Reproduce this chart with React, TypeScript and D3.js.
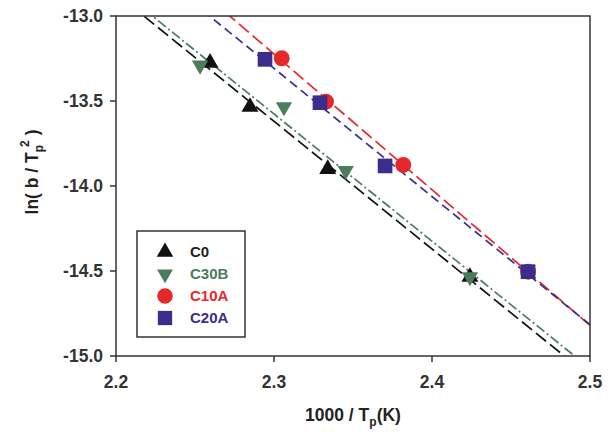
import React from "react";
import * as d3 from "d3";

// Series data: x = 1000/Tp (1/K), y = ln(b/Tp^2)
const seriesNames = ["C0", "C30B", "C10A", "C20A"];
const c0X = [2.2595, 2.2848, 2.334, 2.424];
const c0Y = [-13.276, -13.535, -13.9, -14.535];
const c30bX = [2.2532, 2.3063, 2.3454, 2.424];
const c30bY = [-13.29, -13.535, -13.91, -14.535];
const c10aX = [2.3049, 2.3329, 2.3818, 2.4608];
const c10aY = [-13.249, -13.504, -13.876, -14.504];
const c20aX = [2.2943, 2.3291, 2.3703, 2.4608];
const c20aY = [-13.255, -13.51, -13.882, -14.504];

const xTicks = [2.2, 2.3, 2.4, 2.5];
const yTicks = [-13.0, -13.5, -14.0, -14.5, -15.0];

const W = 616;
const H = 432;
const M = { left: 116, top: 16, right: 590, bottom: 356 };

const FONT = "'Liberation Sans', Arial, Helvetica, sans-serif";

type Series = {
  name: string;
  xs: number[];
  ys: number[];
  color: string;
  symbol: d3.SymbolType;
  size: number;
  rotate: number;
  dash: string;
};

// least-squares line through a series
function fit(xs: number[], ys: number[]) {
  const mx = d3.mean(xs)!;
  const my = d3.mean(ys)!;
  let sxy = 0;
  let sxx = 0;
  xs.forEach((x, i) => {
    sxy += (x - mx) * (ys[i] - my);
    sxx += (x - mx) * (x - mx);
  });
  const slope = sxy / sxx;
  return (x: number) => my + slope * (x - mx);
}

export default function App() {
  const x = d3.scaleLinear().domain([2.2, 2.5]).range([M.left, M.right]);
  const y = d3.scaleLinear().domain([-13.0, -15.0]).range([M.top, M.bottom]);

  const series: Series[] = [
    { name: seriesNames[2], xs: c10aX, ys: c10aY, color: "#e6282b", symbol: d3.symbolCircle, size: 200, rotate: 0, dash: "13,5" },
    { name: seriesNames[3], xs: c20aX, ys: c20aY, color: "#3b2d8e", symbol: d3.symbolSquare, size: 215, rotate: 0, dash: "9,5" },
    { name: seriesNames[0], xs: c0X, ys: c0Y, color: "#111111", symbol: d3.symbolTriangle, size: 125, rotate: 0, dash: "13,5" },
    { name: seriesNames[1], xs: c30bX, ys: c30bY, color: "#4c7c5e", symbol: d3.symbolTriangle, size: 115, rotate: 180, dash: "10,3,2,3" },
  ];

  const legendOrder = [2, 3, 0, 1];
  const line = d3.line<[number, number]>().x((d) => x(d[0])).y((d) => y(d[1]));

  return (
    <svg width={W} height={H} style={{ position: "absolute", left: 0, top: 0, background: "#fff" }}>
      <defs>
        <clipPath id="plotClip">
          <rect x={M.left} y={M.top} width={M.right - M.left} height={M.bottom - M.top} />
        </clipPath>
      </defs>

      {/* fitted lines */}
      <g clipPath="url(#plotClip)">
        {series.map((s) => {
          const f = fit(s.xs, s.ys);
          const pts: [number, number][] = [[2.2, f(2.2)], [2.5, f(2.5)]];
          return (
            <path
              key={s.name + "-fit"}
              d={line(pts) as string}
              fill="none"
              stroke={s.color}
              strokeWidth={1.7}
              strokeDasharray={s.dash}
            />
          );
        })}
      </g>

      {/* markers */}
      {series.map((s) => {
        const gen = d3.symbol().type(s.symbol).size(s.size);
        return (
          <g key={s.name + "-pts"}>
            {s.xs.map((xv, i) => (
              <path
                key={i}
                d={gen() as string}
                fill={s.color}
                transform={`translate(${x(xv)},${y(s.ys[i])}) rotate(${s.rotate})`}
              />
            ))}
          </g>
        );
      })}

      {/* frame */}
      <rect
        x={M.left}
        y={M.top}
        width={M.right - M.left}
        height={M.bottom - M.top}
        fill="none"
        stroke="#333"
        strokeWidth={1.5}
      />

      {/* x axis */}
      {xTicks.map((t) => (
        <g key={"xt" + t}>
          <line x1={x(t)} x2={x(t)} y1={M.bottom} y2={M.bottom + 6} stroke="#333" strokeWidth={1.5} />
          <text
            x={x(t)}
            y={M.bottom + 32}
            textAnchor="middle"
            fontFamily={FONT}
            fontWeight="bold"
            fontSize={17.5}
            fill="#333"
          >
            {t.toFixed(1)}
          </text>
        </g>
      ))}

      {/* y axis */}
      {yTicks.map((t) => (
        <g key={"yt" + t}>
          <line x1={M.left - 6} x2={M.left} y1={y(t)} y2={y(t)} stroke="#333" strokeWidth={1.5} />
          <text
            x={M.left - 13}
            y={y(t)}
            dy="0.36em"
            textAnchor="end"
            fontFamily={FONT}
            fontWeight="bold"
            fontSize={17.5}
            fill="#333"
          >
            {t.toFixed(1)}
          </text>
        </g>
      ))}

      {/* axis titles */}
      <text
        x={(M.left + M.right) / 2}
        y={421}
        textAnchor="middle"
        fontFamily={FONT}
        fontWeight="bold"
        fontSize={17.5}
        fill="#222"
      >
        1000 / T
        <tspan fontSize={12} dy={5}>p</tspan>
        <tspan dy={-5}>(K)</tspan>
      </text>
      <text
        transform={`translate(38,172) rotate(-90)`}
        textAnchor="middle"
        fontFamily={FONT}
        fontWeight="bold"
        fontSize={17.5}
        fill="#222"
      >
        ln( b / T
        <tspan fontSize={12} dy={5}>p</tspan>
        <tspan fontSize={12} dy={-14} dx={-2}>2</tspan>
        <tspan dy={9}> )</tspan>
      </text>

      {/* legend */}
      <rect x={137} y={231} width={108} height={106} fill="#fff" stroke="#333" strokeWidth={1.5} />
      {legendOrder.map((si, row) => {
        const s = series[si];
        const cy = 252 + row * 22;
        const gen = d3.symbol().type(s.symbol).size(s.size * 0.95);
        return (
          <g key={"lg" + s.name}>
            <path d={gen() as string} fill={s.color} transform={`translate(165,${cy}) rotate(${s.rotate})`} />
            <text
              x={190}
              y={cy}
              dy="0.36em"
              fontFamily={FONT}
              fontWeight="bold"
              fontSize={15}
              fill={s.color === "#111111" ? "#222" : s.color}
            >
              {s.name}
            </text>
          </g>
        );
      })}
    </svg>
  );
}
